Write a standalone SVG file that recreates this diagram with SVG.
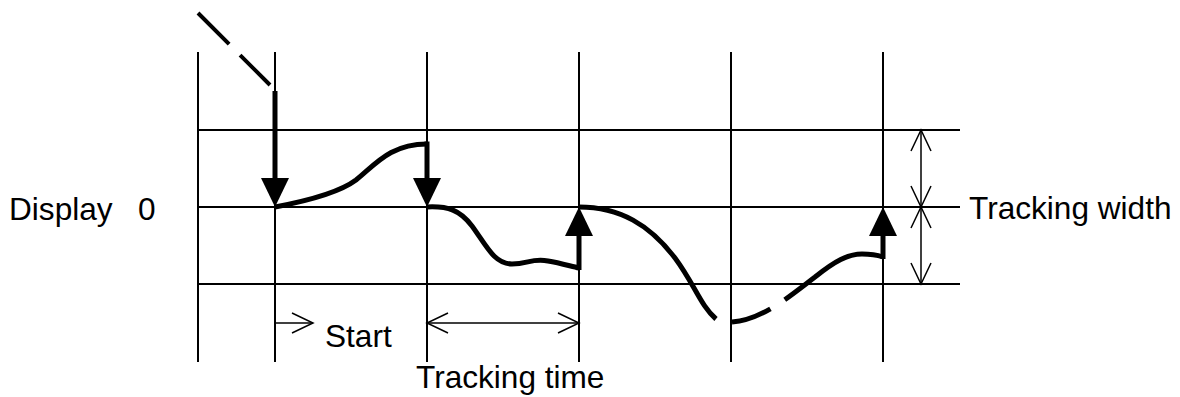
<svg xmlns="http://www.w3.org/2000/svg" width="1180" height="397" viewBox="0 0 1180 397">
<style>
.grid{stroke:#000;stroke-width:2;fill:none}
.dim{stroke:#000;stroke-width:1.5;fill:none}
.curve{stroke:#000;stroke-width:5;fill:none;stroke-linecap:butt}
.shaft{stroke:#000;stroke-width:5;fill:none}
.head{fill:#000;stroke:none}
.lbl{font-family:"Liberation Sans",Arial,sans-serif;font-size:31.6px;fill:#000}
</style>
<rect width="1180" height="397" fill="#fff"/>
<g id="grid">
<line class="grid" x1="198" y1="52" x2="198" y2="362"/>
<line class="grid" x1="275" y1="52" x2="275" y2="362"/>
<line class="grid" x1="427" y1="52" x2="427" y2="362"/>
<line class="grid" x1="579" y1="52" x2="579" y2="362"/>
<line class="grid" x1="731" y1="52" x2="731" y2="362"/>
<line class="grid" x1="883" y1="52" x2="883" y2="362"/>
<line class="grid" x1="198" y1="130" x2="960" y2="130"/>
<line class="grid" x1="198" y1="207" x2="960" y2="207"/>
<line class="grid" x1="198" y1="284" x2="960" y2="284"/>
</g>
<g id="connectors">
<line x1="198" y1="13" x2="270" y2="85" stroke="#000" stroke-width="4" stroke-dasharray="44 15.5"/>
<path class="curve" d="M275,207 C312,200 340,192 356,180 C375,165 390,144 427,144"/>
<path class="curve" d="M427,207 C448,206 460,210 472,226 C486,245 494,264 512,264 C528,264 532,258 548,261 C560,263 570,266 579,268"/>
<path class="curve" d="M579,207 C620,207 650,225 675,258 C695,285 700,305 716,319"/>
<path class="curve" stroke-dasharray="41 17 600" d="M732,322 C762,320 790,296 815,277 C835,261 848,254 862,254 C872,254 880,256 883,257"/>
<line class="shaft" x1="275" y1="91" x2="275" y2="182"/>
<polygon class="head" points="261,178 289,178 275,207"/>
<line class="shaft" x1="427" y1="141.5" x2="427" y2="182"/>
<polygon class="head" points="413,178 441,178 427,207"/>
<line class="shaft" x1="579" y1="232" x2="579" y2="270"/>
<polygon class="head" points="565,236 593,236 579,207"/>
<line class="shaft" x1="883" y1="232" x2="883" y2="259"/>
<polygon class="head" points="869,236 897,236 883,207"/>
</g>
<g id="tracking-width">
<line class="dim" x1="921" y1="130" x2="921" y2="284"/>
<polyline class="dim" points="911,151 921,130 931,151"/>
<polyline class="dim" points="911,186 921,207 931,186"/>
<polyline class="dim" points="911,228 921,207 931,228"/>
<polyline class="dim" points="911,263 921,284 931,263"/>
<text class="lbl" x="969" y="219">Tracking width</text>
</g>
<g id="tracking-time">
<line class="dim" x1="427" y1="323" x2="579" y2="323"/>
<polyline class="dim" points="448,313 427,323 448,333"/>
<polyline class="dim" points="558,313 579,323 558,333"/>
<text class="lbl" x="416" y="388">Tracking time</text>
</g>
<g id="start">
<line class="dim" x1="275" y1="323" x2="313" y2="323"/>
<polyline class="dim" points="292,313 313,323 292,333"/>
<text class="lbl" x="325" y="347">Start</text>
</g>
<g id="display">
<text class="lbl" x="9" y="220">Display<tspan x="138">0</tspan></text>
</g>
</svg>
